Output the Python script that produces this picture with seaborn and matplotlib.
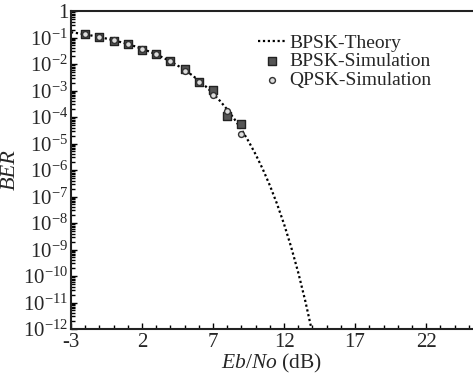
import numpy as np
import pandas as pd
import seaborn as sns
import matplotlib.pyplot as plt
from matplotlib.ticker import FixedLocator, LogLocator, MultipleLocator, NullFormatter

# BPSK theory curve (half-dB steps)
theory_ebno = [-3, -2.5, -2, -1.5, -1, -0.5, 0, 0.5, 1, 1.5, 2, 2.5, 3, 3.5, 4, 4.5,
               5, 5.5, 6, 6.5, 7, 7.5, 8, 8.5, 9, 9.5, 10, 10.5, 11, 11.5, 12,
               12.5, 13, 13.5, 14]
theory_ber = [0.1584, 0.1445, 0.1306, 0.1170, 0.1038, 0.0909, 0.0786, 0.0671,
              0.0563, 0.0464, 0.0375, 0.0297, 0.0229, 0.0172, 0.0125, 0.0088,
              5.95e-3, 3.86e-3, 2.39e-3, 1.40e-3, 7.73e-4, 3.99e-4, 1.91e-4,
              8.40e-5, 3.36e-5, 1.21e-5, 3.87e-6, 1.08e-6, 2.61e-7, 5.33e-8,
              9.01e-9, 1.23e-9, 1.33e-10, 1.10e-11, 6.8e-13]

# simulated points
sim_ebno = [-2, -1, 0, 1, 2, 3, 4, 5, 6, 7, 8, 9]
bpsk_sim = [0.132, 0.102, 0.075, 0.057, 0.0345, 0.024, 0.0130, 0.0065,
            0.0021, 1.02e-3, 1.12e-4, 5.3e-5]
qpsk_sim = [0.131, 0.104, 0.078, 0.058, 0.038, 0.023, 0.0128, 0.0055,
            0.0021, 6.8e-4, 1.73e-4, 2.3e-5]

sns.set_style("ticks")
plt.rcParams['font.family'] = ['Liberation Serif', 'DejaVu Serif']
plt.rcParams['mathtext.fontset'] = 'custom'
plt.rcParams['mathtext.rm'] = 'Liberation Serif'
plt.rcParams['mathtext.it'] = 'Liberation Serif:italic'
plt.rcParams['axes.unicode_minus'] = False

theory = pd.DataFrame({'ebno': theory_ebno, 'ber': theory_ber})
sim = pd.DataFrame({'ebno': sim_ebno, 'bpsk': bpsk_sim, 'qpsk': qpsk_sim})

fig = plt.figure(figsize=(4.73, 3.76), dpi=100)
ax = fig.add_axes([71 / 473, 47 / 376, 402 / 473, 318 / 376])

sns.lineplot(data=theory, x='ebno', y='ber', ax=ax, color='black',
             linestyle=(0, (1, 1.2)), linewidth=1.6, label='BPSK-Theory')
sns.scatterplot(data=sim, x='ebno', y='bpsk', ax=ax, marker='s', s=30,
                color='#555555', edgecolor='#222222', linewidth=1,
                label='BPSK-Simulation', zorder=3)
sns.scatterplot(data=sim, x='ebno', y='qpsk', ax=ax, marker='o', s=18,
                color='#dddddd', edgecolor='#333333', linewidth=1,
                label='QPSK-Simulation', zorder=4)

ax.set_yscale('log')
ax.set_xlim(-3, 25.3)
ax.set_ylim(1e-12, 1)

ax.xaxis.set_major_locator(FixedLocator([-3, 2, 7, 12, 17, 22]))
ax.xaxis.set_minor_locator(MultipleLocator(1))
ax.yaxis.set_major_locator(FixedLocator([10.0 ** (-k) for k in range(13)]))
ax.yaxis.set_minor_locator(LogLocator(base=10, subs=np.arange(2, 10), numticks=50))
ax.yaxis.set_minor_formatter(NullFormatter())
ylabels = ['1'] + [r'$10^{\mathrm{-%d}}$' % k for k in range(1, 13)]
ax.set_yticklabels(ylabels)

ax.tick_params(axis='both', which='both', direction='in', labelsize=15,
               top=False, right=False, width=1, color='black')
ax.tick_params(axis='both', which='major', length=4, pad=2)
ax.tick_params(axis='x', which='major', pad=3)
ax.tick_params(axis='both', which='minor', length=3)

for side in ['left', 'bottom', 'top']:
    ax.spines[side].set_linewidth(1.5)
    ax.spines[side].set_color('#222222')
ax.spines['right'].set_visible(False)

ax.set_xlabel(r'$\mathit{Eb/No}$ (dB)', fontsize=15.5, labelpad=0)
ax.set_ylabel('BER', fontsize=16, fontstyle='italic', labelpad=2)

leg = ax.legend(loc='upper right', bbox_to_anchor=(0.93, 0.97), frameon=False,
                fontsize=14, handlelength=1.4, handletextpad=0.2,
                labelspacing=0.05, borderaxespad=0.3)

fig.savefig('out.png', dpi=100)
